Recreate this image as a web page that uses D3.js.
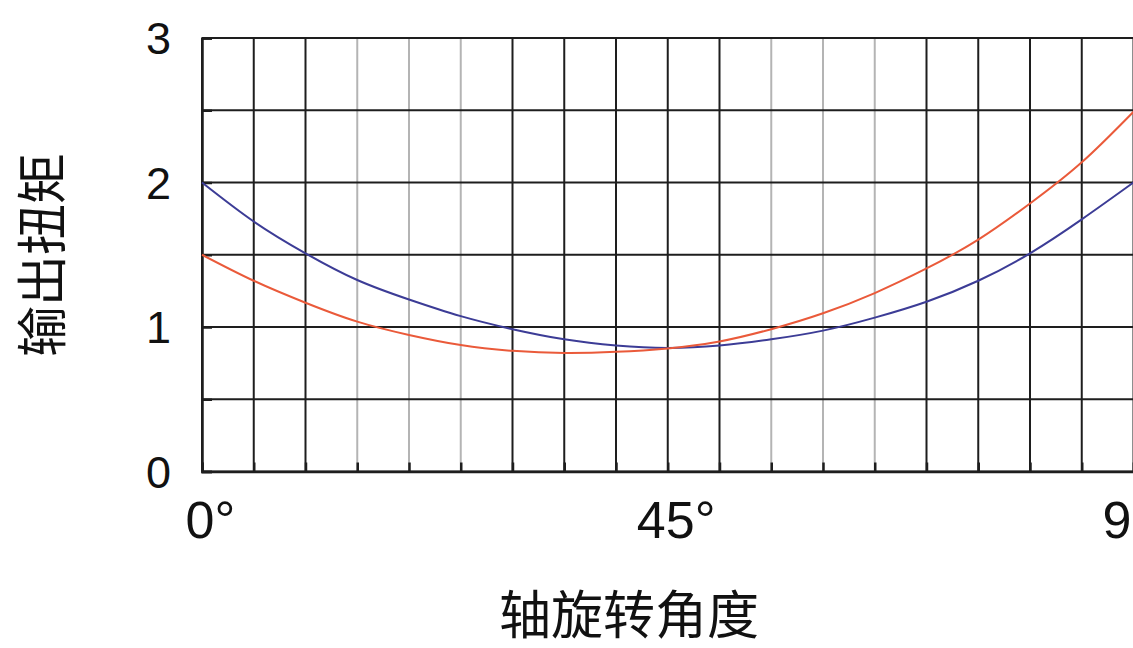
<!DOCTYPE html>
<html>
<head>
<meta charset="utf-8">
<script src="https://cdn.jsdelivr.net/npm/d3@7"></script>
<style>
  html, body { margin: 0; padding: 0; background: #fff; }
  svg { display: block; }
</style>
</head>
<body>
<svg id="chart" width="1133" height="648"></svg>
<script>
// ---- data ----
const angles = [0, 5, 10, 15, 20, 25, 30, 35, 40, 45, 50, 55, 60, 65, 70, 75, 80, 85, 90];
const blueSeries = [2.0, 1.73, 1.51, 1.325, 1.19, 1.075, 0.985, 0.915, 0.872, 0.855, 0.872, 0.915, 0.975, 1.065, 1.175, 1.32, 1.51, 1.745, 2.0];
const redSeries  = [1.5, 1.32, 1.168, 1.037, 0.945, 0.875, 0.835, 0.82, 0.828, 0.852, 0.9, 0.985, 1.095, 1.235, 1.405, 1.605, 1.855, 2.14, 2.49];
const xTickValues = [0, 45, 90];
const xTickLabels = ["0", "45", "90"];
const yTickValues = [0, 1, 2, 3];
const yTickLabels = ["0", "1", "2", "3"];
const xTitle = "轴旋转角度";
const yTitle = "输出扭矩";

// ---- layout / style ----
const svg = d3.select("#chart");
const x = d3.scaleLinear().domain([0, 90]).range([202, 1133.5]);
const y = d3.scaleLinear().domain([0, 3]).range([471.5, 38]);
const lightLines = new Set([15, 20, 25, 55, 60, 65]);
const dark = "#1e1e1e";
const latin = "'Liberation Sans', Arial, Helvetica, sans-serif";
const cjk = "'Noto Sans CJK SC', 'Noto Sans CJK JP', sans-serif";

// vertical grid lines every 5°
const vGrid = d3.range(0, 91, 5);
svg.append("g").selectAll("line").data(vGrid).join("line")
  .attr("x1", d => x(d)).attr("x2", d => x(d))
  .attr("y1", y(3)).attr("y2", y(0))
  .attr("stroke", d => lightLines.has(d) ? "#b4b4b4" : dark)
  .attr("stroke-width", 2);

// horizontal grid lines every 0.5
const hGrid = d3.range(0, 3.01, 0.5);
svg.append("g").selectAll("line").data(hGrid).join("line")
  .attr("x1", x(0)).attr("x2", x(90))
  .attr("y1", d => y(d)).attr("y2", d => y(d))
  .attr("stroke", dark)
  .attr("stroke-width", 2);

// bottom inner ticks
const xAxis = d3.axisBottom(x).tickValues(vGrid).tickSize(-9).tickFormat("");
const gx = svg.append("g").attr("transform", `translate(0,${y(0)})`).call(xAxis);
gx.select(".domain").attr("stroke", dark).attr("stroke-width", 2.5);
gx.selectAll(".tick line").attr("stroke", dark).attr("stroke-width", 2.5);

// left inner ticks
const yAxis = d3.axisLeft(y).tickValues(hGrid).tickSize(-10).tickFormat("");
const gy = svg.append("g").attr("transform", `translate(${x(0)},0)`).call(yAxis);
gy.select(".domain").attr("stroke", dark).attr("stroke-width", 2.5);
gy.selectAll(".tick line").attr("stroke", dark).attr("stroke-width", 2.5);

// curves
const line = d3.line().x((d, i) => x(angles[i])).y(d => y(d)).curve(d3.curveNatural);
svg.append("path").datum(blueSeries)
  .attr("d", line).attr("fill", "none")
  .attr("stroke", "#3c3c96").attr("stroke-width", 2);
svg.append("path").datum(redSeries)
  .attr("d", line).attr("fill", "none")
  .attr("stroke", "#ea5a3a").attr("stroke-width", 2);

// y tick labels
svg.append("g").selectAll("text").data(yTickValues).join("text")
  .attr("x", 171).attr("y", d => y(d))
  .attr("dy", "0.36em")
  .attr("text-anchor", "end")
  .attr("font-family", latin).attr("font-size", 45)
  .attr("fill", "#111")
  .text((d, i) => yTickLabels[i]);

// x tick labels: digits centred on tick, degree sign trailing
const xl = svg.append("g");
xTickValues.forEach((v, i) => {
  const t = xl.append("text")
    .attr("y", 538)
    .attr("font-family", latin).attr("font-size", 52)
    .attr("fill", "#111")
    .text(xTickLabels[i]);
  const w = t.node().getComputedTextLength();
  t.attr("x", x(v) - w / 2 - 2);
  t.append("tspan").text("°");
});

// axis titles
svg.append("text")
  .attr("x", 629).attr("y", 634)
  .attr("text-anchor", "middle")
  .attr("font-family", cjk).attr("font-size", 52)
  .attr("fill", "#111")
  .text(xTitle);

svg.append("text")
  .attr("transform", "translate(61,255) rotate(-90)")
  .attr("text-anchor", "middle")
  .attr("font-family", cjk).attr("font-size", 51)
  .attr("fill", "#111")
  .text(yTitle);
</script>
</body>
</html>
